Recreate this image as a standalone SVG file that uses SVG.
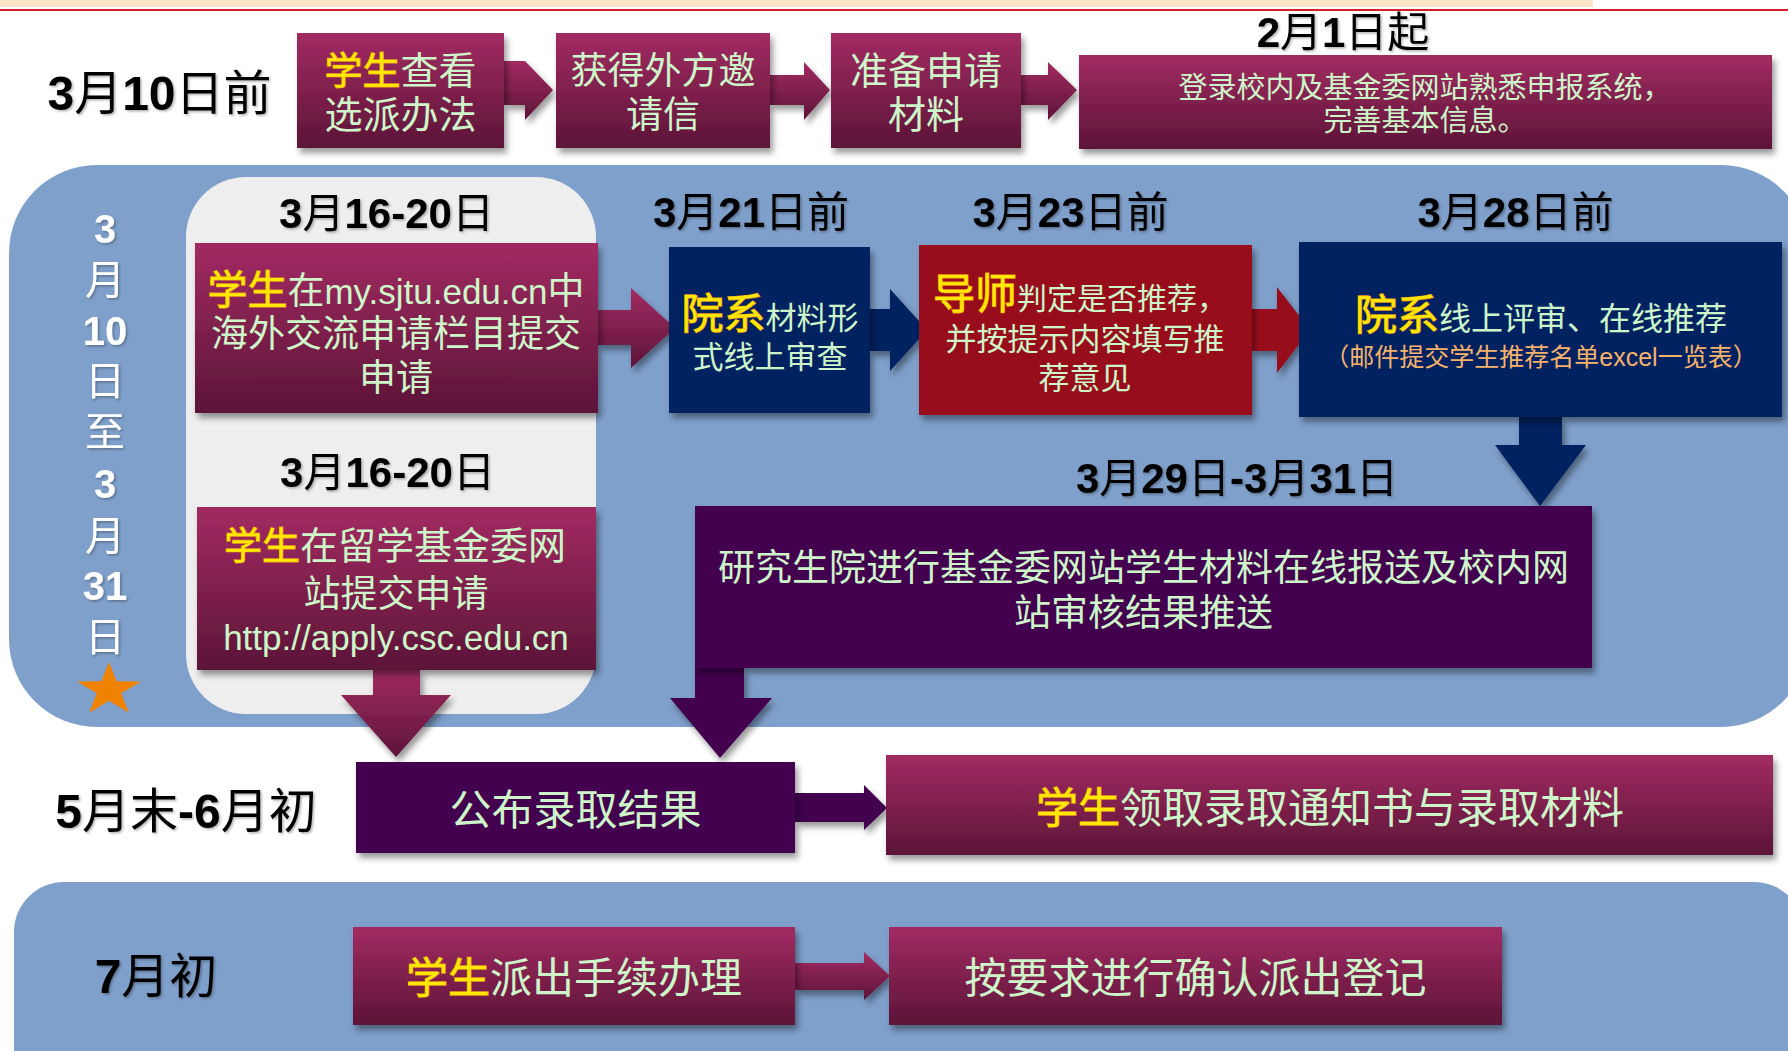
<svg xmlns="http://www.w3.org/2000/svg" width="1788" height="1051" viewBox="0 0 1788 1051">
<defs>
<linearGradient id="gm" x1="0" y1="0" x2="0" y2="1"><stop offset="0" stop-color="#A22B62"/><stop offset="1" stop-color="#5C1538"/></linearGradient>
<filter id="sh" x="-5%" y="-10%" width="115%" height="140%"><feDropShadow dx="3" dy="5" stdDeviation="3" flood-color="#000" flood-opacity="0.4"/></filter>
<filter id="ts" x="-5%" y="-10%" width="115%" height="130%"><feDropShadow dx="1.5" dy="1.5" stdDeviation="1" flood-color="#000" flood-opacity="0.3"/></filter>
</defs>
<style>
text{font-family:"Liberation Sans","Noto Sans CJK SC",sans-serif}
.dt{font-size:42px;fill:#000;text-anchor:middle;filter:url(#ts)}
.b{font-weight:bold}
.bt{fill:#CDF5C9;text-anchor:middle}
.hl{fill:#FFE800;stroke:#F09A1A;stroke-width:1.3px;paint-order:stroke}
.vt{fill:#fff;font-size:40px;text-anchor:middle;filter:url(#ts)}
.m{fill:url(#gm)}
.nv{fill:#002060}
.dr{fill:#98111A}
.pu{fill:#43054F}
.sd{filter:url(#sh)}
</style>
<rect width="1788" height="1051" fill="#fff"/>
<!-- top strip -->
<rect x="0" y="0" width="1593" height="7" fill="#FDE5C8"/>
<line x1="0" y1="10" x2="1788" y2="10" stroke="#D0202A" stroke-width="2"/>
<!-- bands -->
<g id="band-march">
<rect x="9" y="165" width="1800" height="562" rx="88" fill="#7FA0CB"/>
<rect x="186" y="177" width="410" height="537" rx="60" fill="#EEEEEE"/>
<text class="vt b" x="105" y="243">3</text>
<text class="vt" x="105" y="294">月</text>
<text class="vt b" x="105" y="345">10</text>
<text class="vt" x="105" y="395">日</text>
<text class="vt" x="105" y="446">至</text>
<text class="vt b" x="105" y="498">3</text>
<text class="vt" x="105" y="550">月</text>
<text class="vt b" x="105" y="600">31</text>
<text class="vt" x="105" y="651">日</text>
<polygon fill="#F08200" points="109,662 116.6,681.3 141,681.4 121.2,693.3 128.8,712.7 109,700.7 89.2,712.7 96.8,693.3 77,681.4 101.4,681.3"/>
</g>
<g id="band-july">
<rect x="14" y="882" width="1790" height="220" rx="50" fill="#7FA0CB"/>
</g>
<!-- date labels -->
<g id="dates">
<text class="dt" x="159.5" y="110" style="font-size:48px"><tspan class="b">3</tspan>月<tspan class="b">10</tspan>日前</text>
<text class="dt" x="1343" y="47"><tspan class="b">2</tspan>月<tspan class="b">1</tspan>日起</text>
<text class="dt" x="386.5" y="228"><tspan class="b">3</tspan>月<tspan class="b">16-20</tspan>日</text>
<text class="dt" x="751" y="227"><tspan class="b">3</tspan>月<tspan class="b">21</tspan>日前</text>
<text class="dt" x="1070.5" y="227"><tspan class="b">3</tspan>月<tspan class="b">23</tspan>日前</text>
<text class="dt" x="1515.5" y="227"><tspan class="b">3</tspan>月<tspan class="b">28</tspan>日前</text>
<text class="dt" x="387.5" y="487"><tspan class="b">3</tspan>月<tspan class="b">16-20</tspan>日</text>
<text class="dt" x="1237" y="493"><tspan class="b">3</tspan>月<tspan class="b">29</tspan>日<tspan class="b">-3</tspan>月<tspan class="b">31</tspan>日</text>
<text class="dt" x="186" y="828" style="font-size:48px"><tspan class="b">5</tspan>月末<tspan class="b">-6</tspan>月初</text>
<text class="dt" x="156" y="993" style="font-size:48px"><tspan class="b">7</tspan>月初</text>
</g>
<!-- connectors -->
<g id="connectors">
<polygon class="m sd" points="504,61 525,61 553,90 525,120 525,105 504,105"/>
<polygon class="m sd" points="770,75 804,75 804,62 830,90 804,120 804,105 770,105"/>
<polygon class="m sd" points="1021,75 1048,75 1048,62 1077,90 1048,120 1048,105 1021,105"/>
<polygon class="m sd" points="598,310 631,310 631,288 675,328 631,368 631,345 598,345"/>
<polygon class="nv sd" points="870,309 890,309 890,289 927,330 890,371 890,351 870,351"/>
<polygon class="dr sd" points="1252,309 1277,309 1277,287 1310,330 1277,373 1277,351 1252,351"/>
<polygon class="m sd" points="373,670 420,670 420,695 451,695 396,757 341,695 373,695"/>
<polygon class="nv sd" points="1519,417 1562,417 1562,445 1586,445 1540,506 1495,445 1519,445"/>
<polygon class="pu sd" points="695,668 744,668 744,698 772,698 720,758 670,698 695,698"/>
<polygon class="pu sd" points="795,793 864,793 864,785 887,808 864,830 864,822 795,822"/>
<polygon class="m sd" points="795,963 864,963 864,952 890,976 864,1000 864,990 795,990"/>
</g>
<!-- nodes -->
<g id="n-view">
<rect class="m sd" x="297" y="33" width="207" height="115"/>
<text class="bt" x="400.5" y="84" font-size="38"><tspan class="hl">学生</tspan>查看</text>
<text class="bt" x="400.5" y="128" font-size="38">选派办法</text>
</g>
<g id="n-invite">
<rect class="m sd" x="556" y="33" width="214" height="115"/>
<text class="bt" x="663" y="84" font-size="37">获得外方邀</text>
<text class="bt" x="663" y="128" font-size="37">请信</text>
</g>
<g id="n-prepare">
<rect class="m sd" x="831" y="33" width="190" height="115"/>
<text class="bt" x="926" y="84" font-size="38">准备申请</text>
<text class="bt" x="926" y="128" font-size="38">材料</text>
</g>
<g id="n-login">
<rect class="m sd" x="1079" y="55" width="693" height="94"/>
<text class="bt" x="1425" y="98" font-size="29">登录校内及基金委网站熟悉申报系统，</text>
<text class="bt" x="1425" y="131" font-size="29">完善基本信息。</text>
</g>
<g id="n-sjtu">
<rect class="m sd" x="195" y="243" width="403" height="170"/>
<text class="bt" x="396" y="304" font-size="37"><tspan class="hl" font-size="40">学生</tspan>在<tspan font-size="35">my.sjtu.edu.cn</tspan>中</text>
<text class="bt" x="396" y="347" font-size="37">海外交流申请栏目提交</text>
<text class="bt" x="396" y="391" font-size="37">申请</text>
</g>
<g id="n-csc">
<rect class="m sd" x="197" y="507" width="399" height="163"/>
<text class="bt" x="395" y="559" font-size="38"><tspan class="hl">学生</tspan>在留学基金委网</text>
<text class="bt" x="396" y="607" font-size="37">站提交申请</text>
<text class="bt" x="396" y="650" font-size="35">http://apply.csc.edu.cn</text>
</g>
<g id="n-dept-check">
<rect class="nv sd" x="669" y="247" width="201" height="166"/>
<text class="bt" x="770" y="329" font-size="31"><tspan class="hl" font-size="42">院系</tspan>材料形</text>
<text class="bt" x="770" y="368" font-size="31">式线上审查</text>
</g>
<g id="n-tutor">
<rect class="dr sd" x="919" y="245" width="333" height="170"/>
<text class="bt" x="1080" y="309" font-size="30"><tspan class="hl" font-size="42">导师</tspan>判定是否推荐，</text>
<text class="bt" x="1085" y="350" font-size="31">并按提示内容填写推</text>
<text class="bt" x="1085" y="389" font-size="31">荐意见</text>
</g>
<g id="n-dept-review">
<rect class="nv sd" x="1299" y="242" width="483" height="175"/>
<text class="bt" x="1541" y="330" font-size="32"><tspan class="hl" font-size="42">院系</tspan>线上评审、在线推荐</text>
<text x="1541" y="366" font-size="25" fill="#F6B26B" text-anchor="middle">（邮件提交学生推荐名单excel一览表）</text>
</g>
<g id="n-grad">
<rect class="pu sd" x="695" y="506" width="897" height="162"/>
<text class="bt" x="1143.5" y="581" font-size="37">研究生院进行基金委网站学生材料在线报送及校内网</text>
<text class="bt" x="1143.5" y="626" font-size="37">站审核结果推送</text>
</g>
<g id="n-result">
<rect class="pu sd" x="356" y="762" width="439" height="91"/>
<text class="bt" x="575.5" y="825" font-size="42">公布录取结果</text>
</g>
<g id="n-notice">
<rect class="m sd" x="886" y="755" width="887" height="100"/>
<text class="bt" x="1330" y="823" font-size="42"><tspan class="hl">学生</tspan>领取录取通知书与录取材料</text>
</g>
<g id="n-depart">
<rect class="m sd" x="353" y="927" width="442" height="98"/>
<text class="bt" x="574" y="993" font-size="42"><tspan class="hl">学生</tspan>派出手续办理</text>
</g>
<g id="n-register">
<rect class="m sd" x="889" y="927" width="613" height="98"/>
<text class="bt" x="1195.5" y="993" font-size="42">按要求进行确认派出登记</text>
</g>
</svg>
